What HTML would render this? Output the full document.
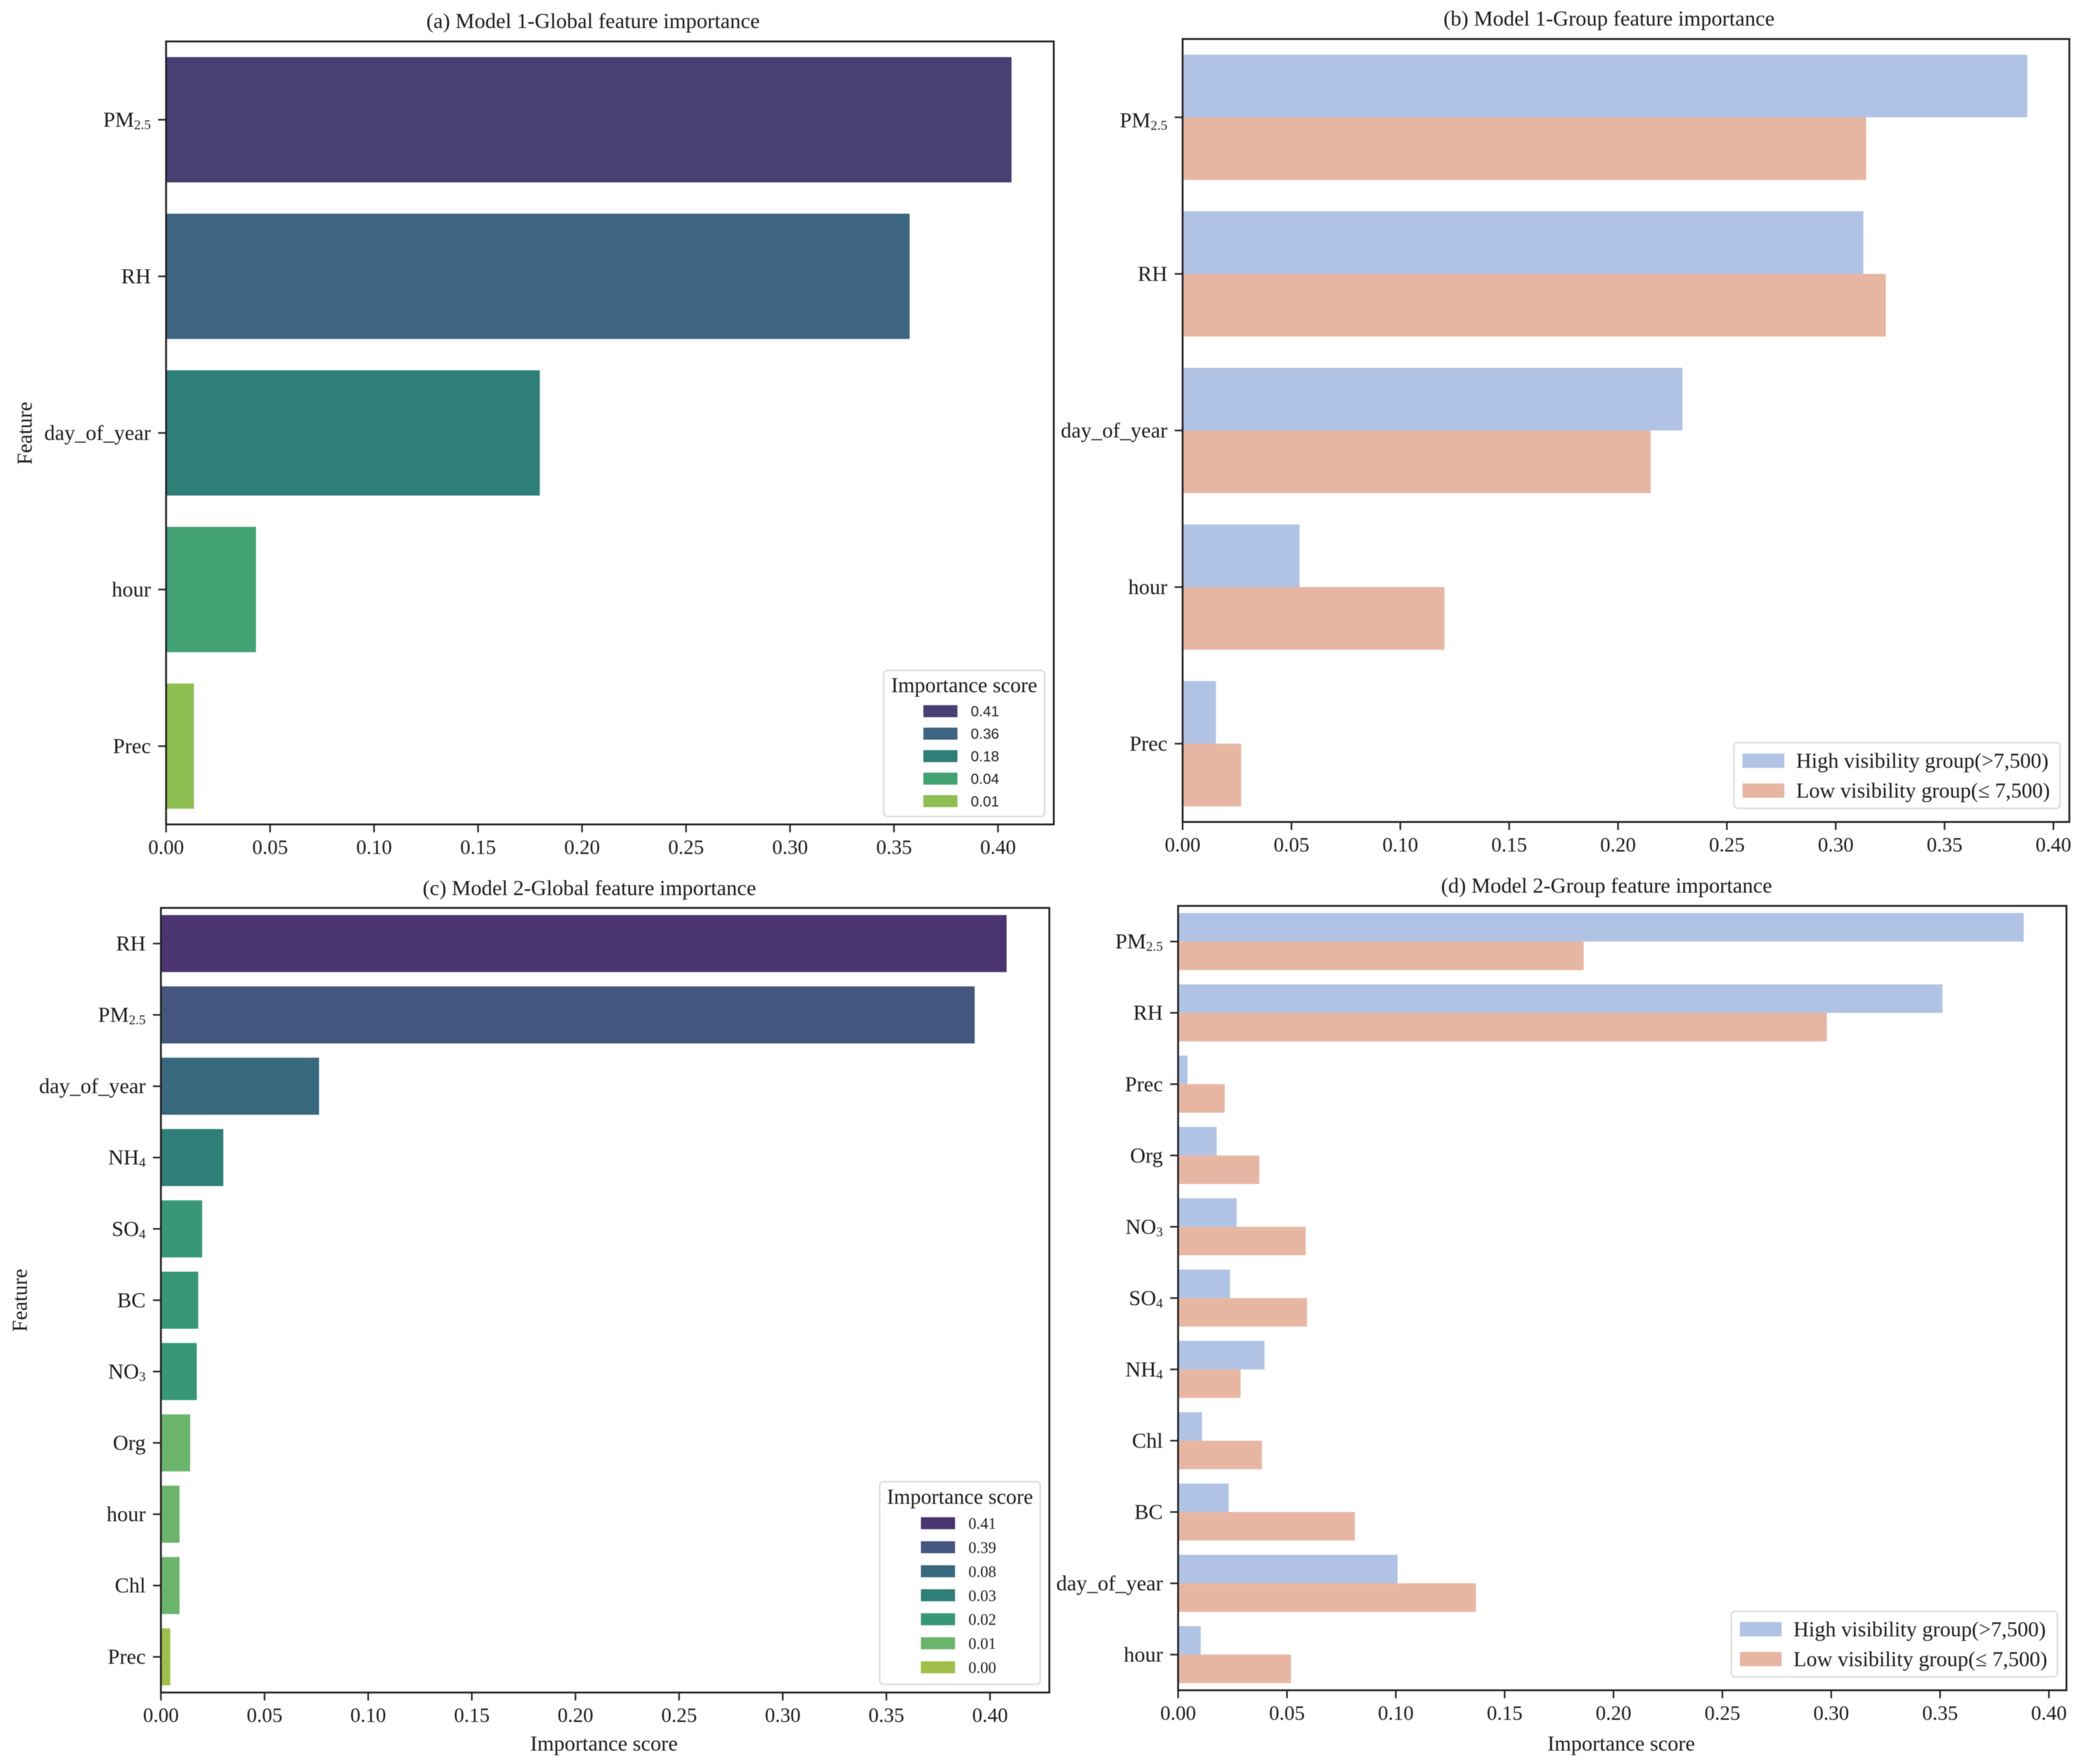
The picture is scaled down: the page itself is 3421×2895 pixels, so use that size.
<!DOCTYPE html>
<html lang="en">
<head>
<meta charset="utf-8">
<title>Feature importance panels</title>
<style>
  html, body { margin: 0; padding: 0; background: #ffffff; }
  svg { display: block; filter: blur(0.6px); }
  text { font-family: "Liberation Serif", "Times New Roman", serif; fill: #1c1c1c; }
</style>
</head>
<body>
<svg id="figure" xmlns="http://www.w3.org/2000/svg" width="3421" height="2895" viewBox="0 0 3421 2895">
  <rect width="3421" height="2895" fill="#ffffff"/>
  <text x="973" y="46" font-size="35.2" text-anchor="middle">(a) Model 1-Global feature importance</text>
  <text x="2640" y="42" font-size="35.2" text-anchor="middle">(b) Model 1-Group feature importance</text>
  <text x="967" y="1469" font-size="35.2" text-anchor="middle">(c) Model 2-Global feature importance</text>
  <text x="2636" y="1465" font-size="35.2" text-anchor="middle">(d) Model 2-Group feature importance</text>
  <text transform="translate(52 711) rotate(-90)" font-size="34.5" text-anchor="middle">Feature</text>
  <text transform="translate(44 2134) rotate(-90)" font-size="34.5" text-anchor="middle">Feature</text>
  <text x="991" y="2873" font-size="35" text-anchor="middle">Importance score</text>
  <text x="2660" y="2873" font-size="35" text-anchor="middle">Importance score</text>
</svg>
<script>
// ---- Data ----
const xTickValues = [0, 0.05, 0.10, 0.15, 0.20, 0.25, 0.30, 0.35, 0.40];

const panelACategories = ['PM2.5', 'RH', 'day_of_year', 'hour', 'Prec'];
const panelAValues = [0.4065, 0.3575, 0.1797, 0.0432, 0.0134];
const panelALegendLabels = ['0.41', '0.36', '0.18', '0.04', '0.01'];

const panelBCategories = ['PM2.5', 'RH', 'day_of_year', 'hour', 'Prec'];
const panelBHighValues = [0.388, 0.3127, 0.2296, 0.0537, 0.0153];
const panelBLowValues = [0.314, 0.323, 0.215, 0.1203, 0.0269];

const panelCCategories = ['RH', 'PM2.5', 'day_of_year', 'NH4', 'SO4', 'BC', 'NO3', 'Org', 'hour', 'Chl', 'Prec'];
const panelCValues = [0.408, 0.3926, 0.0763, 0.0301, 0.0199, 0.018, 0.0173, 0.0141, 0.009, 0.009, 0.0045];
const panelCLegendLabels = ['0.41', '0.39', '0.08', '0.03', '0.02', '0.01', '0.00'];

const panelDCategories = ['PM2.5', 'RH', 'Prec', 'Org', 'NO3', 'SO4', 'NH4', 'Chl', 'BC', 'day_of_year', 'hour'];
const panelDHighValues = [0.3884, 0.3511, 0.0043, 0.0177, 0.0269, 0.0238, 0.0397, 0.011, 0.0232, 0.1008, 0.0104];
const panelDLowValues = [0.1863, 0.298, 0.0214, 0.0373, 0.0586, 0.0592, 0.0287, 0.0385, 0.0812, 0.1368, 0.0519];

const groupLegendLabels = ['High visibility group(>7,500)', 'Low visibility group(\u2264 7,500)'];
const legendTitleText = 'Importance score';

// ---- Styling (separate from data) ----
const highColor = '#b0c3e5';
const lowColor = '#e7b6a3';
const panelAPalette = ['#4a3f73', '#3d6480', '#2f7f79', '#42a273', '#8fbe52'];
const panelCBarPalette = ['#4a3570', '#45567e', '#38697f', '#2f7e78', '#389875', '#389875', '#389875', '#6bb46c', '#6bb46c', '#6bb46c', '#a0bf4a'];
const panelCLegendPalette = ['#4a3570', '#45567e', '#38697f', '#2f7e78', '#389875', '#6bb46c', '#a0bf4a'];

const svgNS = 'http://www.w3.org/2000/svg';
const figure = document.getElementById('figure');

function make(tag, attrs, parent, content) {
  const node = document.createElementNS(svgNS, tag);
  for (const key in attrs) node.setAttribute(key, attrs[key]);
  if (content !== undefined) node.textContent = content;
  parent.appendChild(node);
  return node;
}

function slug(text) {
  return String(text).toLowerCase().replace(/[^a-z0-9]+/g, '-');
}

function linearX(frame) {
  return function (v) { return frame.left + v * frame.pxPerUnit; };
}

function bandY(frame, count) {
  const step = (frame.bottom - frame.top) / count;
  return {
    step: step,
    center: function (i) { return frame.top + step * (i + 0.5); }
  };
}

function drawCategoryLabel(parent, text, x, y) {
  const label = make('text', { x: x, y: y, 'font-size': 35, 'text-anchor': 'end' }, parent);
  
  
  const parts = text.match(/^([A-Za-z]+)(\d[\d.]*)$/);
  if (parts) {
    make('tspan', {}, label, parts[1]);
    make('tspan', { 'font-size': 22, dy: 4 }, label, parts[2]);
  } else {
    label.textContent = text;
  }
}

function drawAxes(frame, categories, panelKey) {
  const g = make('g', {}, figure);
  
  
  const x = linearX(frame);
  const y = bandY(frame, categories.length);
  const tickColor = '#222222';
  xTickValues.forEach(function (v) {
    const tick = make('line', { x1: x(v), x2: x(v), y1: frame.bottom, y2: frame.bottom + 13, stroke: tickColor, 'stroke-width': 2.6 }, g);
    
    
    const label = make('text', { x: x(v), y: frame.bottom + 48.5, 'font-size': 33.5, 'text-anchor': 'middle' }, g, v.toFixed(2));
    
    
  });
  categories.forEach(function (name, i) {
    const tick = make('line', { x1: frame.left - 13, x2: frame.left, y1: y.center(i), y2: y.center(i), stroke: tickColor, 'stroke-width': 2.6 }, g);
    
    
    const shift = i === 0 ? frame.firstLabelShift : 0;
    drawCategoryLabel(g, name, frame.left - 25, y.center(i) + 11.5 + shift);
  });
  const box = make('rect', { x: frame.left, y: frame.top, width: frame.right - frame.left, height: frame.bottom - frame.top, fill: 'none', stroke: tickColor, 'stroke-width': 3 }, g);
  
  
}

function drawSingleBars(frame, categories, values, palette, panelKey) {
  const g = make('g', {}, figure);
  
  
  const x = linearX(frame);
  const y = bandY(frame, categories.length);
  const barH = y.step * 0.8;
  values.forEach(function (v, i) {
    const bar = make('rect', { x: x(0), y: y.center(i) - barH / 2, width: x(v) - x(0), height: barH, fill: palette[i] }, g);
    
    
  });
}

function drawGroupedBars(frame, categories, high, low, panelKey) {
  const g = make('g', {}, figure);
  
  
  const x = linearX(frame);
  const y = bandY(frame, categories.length);
  const barH = y.step * 0.4;
  categories.forEach(function (name, i) {
    const highBar = make('rect', { x: x(0), y: y.center(i) - barH, width: x(high[i]) - x(0), height: barH, fill: highColor }, g);
    
    
    const lowBar = make('rect', { x: x(0), y: y.center(i), width: x(low[i]) - x(0), height: barH, fill: lowColor }, g);
    
    
  });
}

function drawScoreLegend(box, labels, palette, panelKey, labelFont, labelSize) {
  const g = make('g', {}, figure);
  
  
  const frame = make('rect', { x: box.x, y: box.y, width: box.w, height: box.h, rx: 6, fill: '#ffffff', stroke: '#dddddd', 'stroke-width': 2.6 }, g);
  
  
  const title = make('text', { x: box.x + box.w / 2, y: box.titleY, 'font-size': 34.7, 'text-anchor': 'middle' }, g, legendTitleText);
  
  
  labels.forEach(function (text, i) {
    const rowY = box.firstRow + box.rowStep * i;
    const swatch = make('rect', { x: box.swatchX, y: rowY, width: 56, height: 19.7, fill: palette[i] }, g);
    
    
    const label = make('text', { x: box.textX, y: rowY + 10 + labelSize * 0.35, 'font-size': labelSize, style: 'font-family:' + labelFont }, g, text);
    
    
  });
}

function drawGroupLegend(box, panelKey) {
  const g = make('g', {}, figure);
  
  
  const frame = make('rect', { x: box.x, y: box.y, width: 535, height: 107.7, rx: 6, fill: '#ffffff', stroke: '#dddddd', 'stroke-width': 2.6 }, g);
  
  
  [highColor, lowColor].forEach(function (color, i) {
    const rowY = box.y + 17.7 + i * 49;
    const swatch = make('rect', { x: box.x + 14, y: rowY, width: 68.6, height: 23.5, fill: color }, g);
    
    
    const label = make('text', { x: box.x + 102, y: rowY + 23.5, 'font-size': 34.9 }, g, groupLegendLabels[i]);
    
    
  });
}

const frameA = { left: 272.5, right: 1729, top: 68, bottom: 1353, pxPerUnit: 3412.5, firstLabelShift: 0 };
const frameB = { left: 1940.4, right: 3395.3, top: 64, bottom: 1349, pxPerUnit: 3572, firstLabelShift: 5 };
const frameC = { left: 264, right: 1721.7, top: 1490, bottom: 2777.7, pxPerUnit: 3401, firstLabelShift: 0 };
const frameD = { left: 1933, right: 3390.6, top: 1486.7, bottom: 2774, pxPerUnit: 3572, firstLabelShift: 0 };

drawSingleBars(frameA, panelACategories, panelAValues, panelAPalette, 'a');
drawAxes(frameA, panelACategories, 'a');
drawScoreLegend({ x: 1450, y: 1100, w: 264, h: 240, titleY: 1136, swatchX: 1515, textX: 1592.7, firstRow: 1157.3, rowStep: 36.9 }, panelALegendLabels, panelAPalette, 'a', '"Liberation Sans", sans-serif', 24);

drawGroupedBars(frameB, panelBCategories, panelBHighValues, panelBLowValues, 'b');
drawAxes(frameB, panelBCategories, 'b');
drawGroupLegend({ x: 2845, y: 1219 }, 'b');

drawSingleBars(frameC, panelCCategories, panelCValues, panelCBarPalette, 'c');
drawAxes(frameC, panelCCategories, 'c');
drawScoreLegend({ x: 1443.3, y: 2431.7, w: 263.4, h: 332.6, titleY: 2468, swatchX: 1511, textX: 1589, firstRow: 2490, rowStep: 39.4 }, panelCLegendLabels, panelCLegendPalette, 'c', '"Liberation Serif", serif', 26);

drawGroupedBars(frameD, panelDCategories, panelDHighValues, panelDLowValues, 'd');
drawAxes(frameD, panelDCategories, 'd');
drawGroupLegend({ x: 2840.6, y: 2644.3 }, 'd');
</script>
</body>
</html>
